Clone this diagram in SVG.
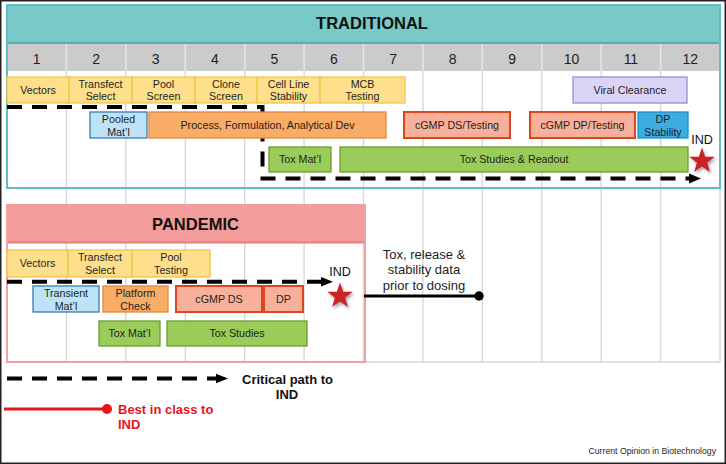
<svg xmlns="http://www.w3.org/2000/svg" width="726" height="464" viewBox="0 0 726 464">
<defs>
<style>
text{font-family:"Liberation Sans",Arial,sans-serif;fill:#1e1e1e}
.t{font-size:10.7px;text-anchor:middle}
.num{font-size:14px;text-anchor:middle}
.hd{font-size:16.5px;font-weight:bold;text-anchor:middle;fill:#111}
.grid{stroke:#D8D8D8;stroke-width:1.4;fill:none}
.gdiv{stroke:#E4E4E4;stroke-width:1.4}
.y{fill:#FEE08C;stroke:#F2C548;stroke-width:1.3}
.lav{fill:#DCD4F6;stroke:#9A8ED0;stroke-width:1.3}
.lb{fill:#BEE3F6;stroke:#3A7CB0;stroke-width:1.3}
.or{fill:#F8AC66;stroke:#E08A3C;stroke-width:1.3}
.sa{fill:#F9B09A;stroke:#D9471F;stroke-width:2}
.bl{fill:#3BADE2;stroke:#2290C6;stroke-width:1.3}
.gr{fill:#9BCC5A;stroke:#6B9F32;stroke-width:1.3}
.dash{fill:none;stroke:#000;stroke-width:4;stroke-dasharray:15 10}
.ah{fill:#000}
.star{fill:#CC2027}
.ind{font-size:12.6px;text-anchor:middle;fill:#111}
.lg{font-size:13px;font-weight:bold;fill:#111}
</style>
<polygon id="starshape" points="0,-13.5 3.17,-4.37 12.84,-4.17 5.14,1.67 7.94,10.92 0,5.4 -7.94,10.92 -5.14,1.67 -12.84,-4.17 -3.17,-4.37"/>
<filter id="sh" x="-50%" y="-50%" width="200%" height="200%">
<feDropShadow dx="1.5" dy="2" stdDeviation="1.6" flood-color="#777" flood-opacity="0.7"/>
</filter>
</defs>
<rect x="0" y="0" width="726" height="464" fill="#fff"/>
<rect x="0.75" y="0.75" width="724.5" height="462.5" fill="none" stroke="#222" stroke-width="1.5"/>

<g id="grid">
<rect x="7" y="44" width="713" height="27" fill="#CBCBCB"/>
<path class="grid" d="M66.4,44V362M125.8,44V362M185.3,44V362M244.7,44V362M304.1,44V362M363.5,44V362M422.9,44V362M482.3,44V362M541.8,44V362M601.2,44V362M660.6,44V362M720,44V362M7,362H720"/>
<path class="gdiv" d="M66.4,44V71M125.8,44V71M185.3,44V71M244.7,44V71M304.1,44V71M363.5,44V71M422.9,44V71M482.3,44V71M541.8,44V71M601.2,44V71M660.6,44V71"/>
<text class="num" x="36.7" y="64">1</text>
<text class="num" x="96.1" y="64">2</text>
<text class="num" x="155.6" y="64">3</text>
<text class="num" x="215" y="64">4</text>
<text class="num" x="274.4" y="64">5</text>
<text class="num" x="333.8" y="64">6</text>
<text class="num" x="393.2" y="64">7</text>
<text class="num" x="452.7" y="64">8</text>
<text class="num" x="512.1" y="64">9</text>
<text class="num" x="571.5" y="64">10</text>
<text class="num" x="630.9" y="64">11</text>
<text class="num" x="690.3" y="64">12</text>
</g>

<g id="traditional-header">
<rect x="7" y="5" width="713" height="38" fill="#79C9C9"/>
<line x1="7" y1="43" x2="720" y2="43" stroke="#4FB0B0" stroke-width="2"/>
<rect x="7" y="5" width="713" height="183" fill="none" stroke="#5FBFBF" stroke-width="2"/>
<text class="hd" x="372" y="29">TRADITIONAL</text>
</g>

<g id="pandemic-header">
<rect x="7" y="205" width="358" height="38" fill="#F29C9C"/>
<line x1="7" y1="242.5" x2="365" y2="242.5" stroke="#E67F7F" stroke-width="2"/>
<rect x="7" y="205" width="358" height="157" fill="none" stroke="#F0A0A0" stroke-width="2"/>
<text class="hd" x="195.5" y="230">PANDEMIC</text>
</g>

<g id="connectors">
<path class="dash" d="M7,107H262.5V178.5H690"/>
<polygon class="ah" points="689,173.5 701,178.5 689,183.5"/>
<path class="dash" d="M7,281.7H322"/>
<polygon class="ah" points="321,277 333,281.7 321,286.4"/>
<line x1="364" y1="296" x2="479" y2="296" stroke="#000" stroke-width="3"/>
<circle cx="479" cy="296" r="4.7" fill="#000"/>
<path class="dash" d="M7,378.5H217"/>
<polygon class="ah" points="216,373.8 228,378.5 216,383.2"/>
<line x1="4" y1="409" x2="107" y2="409" stroke="#E8141B" stroke-width="3"/>
<circle cx="107" cy="409" r="5" fill="#E8141B"/>
</g>

<g id="t-vectors"><rect class="y" x="7" y="77" width="62" height="26"/><text class="t" x="38" y="93.8">Vectors</text></g>
<g id="t-transfect"><rect class="y" x="69" y="77" width="63" height="26"/><text class="t" x="100.5" y="87.8">Transfect</text><text class="t" x="100.5" y="100.4">Select</text></g>
<g id="t-pool"><rect class="y" x="132" y="77" width="63" height="26"/><text class="t" x="163.5" y="87.8">Pool</text><text class="t" x="163.5" y="100.4">Screen</text></g>
<g id="t-clone"><rect class="y" x="195" y="77" width="62" height="26"/><text class="t" x="226" y="87.8">Clone</text><text class="t" x="226" y="100.4">Screen</text></g>
<g id="t-cellline"><rect class="y" x="257" y="77" width="63" height="26"/><text class="t" x="288.5" y="87.8">Cell Line</text><text class="t" x="288.5" y="100.4">Stability</text></g>
<g id="t-mcb"><rect class="y" x="320" y="77" width="85" height="26"/><text class="t" x="362.5" y="87.8">MCB</text><text class="t" x="362.5" y="100.4">Testing</text></g>
<g id="t-viral"><rect class="lav" x="573" y="77" width="114" height="26"/><text class="t" x="630" y="93.8">Viral Clearance</text></g>

<g id="t-pooled"><rect class="lb" x="90" y="112" width="57" height="26"/><text class="t" x="118.5" y="123">Pooled</text><text class="t" x="118.5" y="135.5">Mat’l</text></g>
<g id="t-process"><rect class="or" x="149" y="112" width="237" height="26"/><text class="t" x="267.5" y="128.8">Process, Formulation, Analytical Dev</text></g>
<g id="t-cgmpds"><rect class="sa" x="404" y="112" width="106" height="26"/><text class="t" x="457" y="128.8">cGMP DS/Testing</text></g>
<g id="t-cgmpdp"><rect class="sa" x="530" y="112" width="105" height="26"/><text class="t" x="582.5" y="128.8">cGMP DP/Testing</text></g>
<g id="t-dpstab"><rect class="bl" x="638" y="112" width="50" height="26"/><text class="t" x="663" y="123">DP</text><text class="t" x="663" y="135.5">Stability</text></g>

<g id="t-toxmat"><rect class="gr" x="269" y="147" width="62" height="25"/><text class="t" x="300" y="163.3">Tox Mat’l</text></g>
<g id="t-toxstudies"><rect class="gr" x="340" y="147" width="348" height="25"/><text class="t" x="514" y="163.3">Tox Studies &amp; Readout</text></g>

<g id="t-ind"><use href="#starshape" class="star" filter="url(#sh)" transform="translate(702,161)"/><text class="ind" x="702" y="144">IND</text></g>

<g id="p-vectors"><rect class="y" x="7" y="250" width="61" height="27"/><text class="t" x="37.5" y="267.3">Vectors</text></g>
<g id="p-transfect"><rect class="y" x="68" y="250" width="64" height="27"/><text class="t" x="100" y="261.3">Transfect</text><text class="t" x="100" y="274">Select</text></g>
<g id="p-pool"><rect class="y" x="132" y="250" width="78" height="27"/><text class="t" x="171" y="261.3">Pool</text><text class="t" x="171" y="274">Testing</text></g>

<g id="p-transient"><rect class="lb" x="33" y="286" width="66" height="26"/><text class="t" x="66" y="297">Transient</text><text class="t" x="66" y="309.5">Mat’l</text></g>
<g id="p-platform"><rect class="or" x="103" y="286" width="65" height="26"/><text class="t" x="135.5" y="297">Platform</text><text class="t" x="135.5" y="309.5">Check</text></g>
<g id="p-cgmpds"><rect class="sa" x="176" y="286" width="86" height="26"/><text class="t" x="219" y="302.8">cGMP DS</text></g>
<g id="p-dp"><rect class="sa" x="264" y="286" width="39" height="26"/><text class="t" x="283.5" y="302.8">DP</text></g>

<g id="p-toxmat"><rect class="gr" x="99" y="321" width="61" height="25"/><text class="t" x="129.5" y="337.3">Tox Mat’l</text></g>
<g id="p-toxstudies"><rect class="gr" x="167" y="321" width="140" height="25"/><text class="t" x="237" y="337.3">Tox Studies</text></g>

<g id="p-ind"><use href="#starshape" class="star" filter="url(#sh)" transform="translate(340,296)"/><text class="ind" x="340" y="276">IND</text></g>

<g id="note"><text font-size="13" text-anchor="middle" x="424" y="258.5">Tox, release &amp;</text><text font-size="13" text-anchor="middle" x="424" y="274.3">stability data</text><text font-size="13" text-anchor="middle" x="424" y="289.5">prior to dosing</text></g>

<g id="legend">
<text class="lg" x="242" y="383.5">Critical path to</text>
<text class="lg" x="287" y="398.5" text-anchor="middle">IND</text>
<text class="lg" x="118" y="413.5" style="fill:#E8141B">Best in class to</text>
<text class="lg" x="118" y="429" style="fill:#E8141B">IND</text>
<text x="716" y="454" font-size="8.7" text-anchor="end" fill="#222">Current Opinion in Biotechnology</text>
</g>
</svg>
